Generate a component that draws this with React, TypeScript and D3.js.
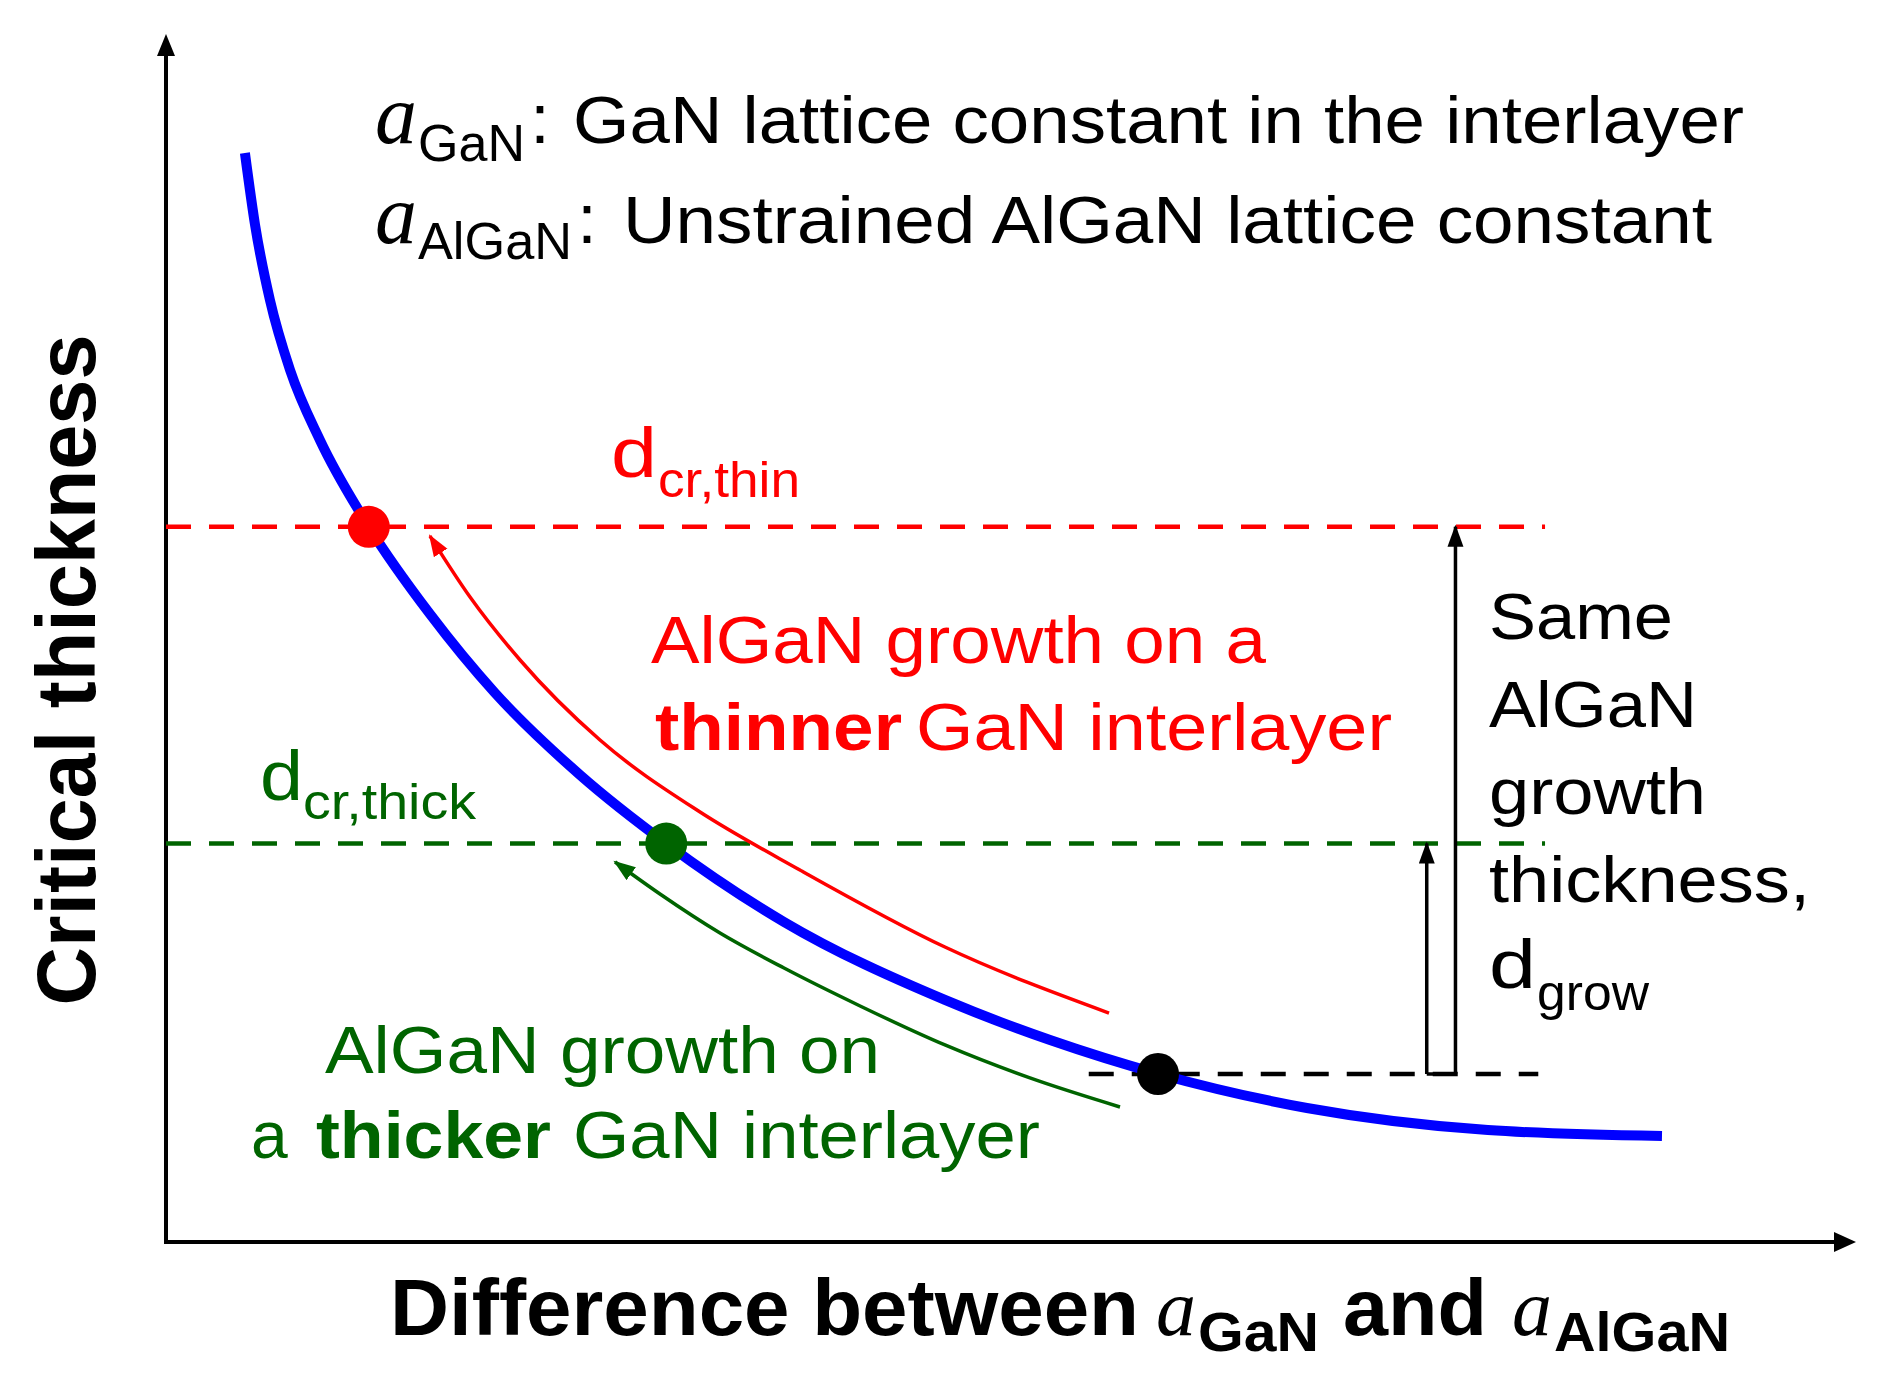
import * as d3 from "d3";
import React from "react";

// critical thickness vs. lattice mismatch (arbitrary units)
const curveX = [4.67, 5.27, 6.15, 7.34, 9.11, 12.01, 15.62, 19.47, 24.5, 29.64, 36.57, 46.09, 52.31, 58.76, 67.51, 78.22, 88.52];
const curveY = [90.75, 84.75, 78.5, 72.67, 66.83, 59.58, 52.33, 45.75, 38.92, 33.17, 26.67, 20.17, 16.83, 14.0, 11.17, 9.33, 8.83];

// curved arrows, listed from head (left) to tail (right)
const thinArrowX = [15.62, 17.99, 20.95, 25.68, 31.6, 37.51, 46.09, 55.8];
const thinArrowY = [58.83, 53.75, 48.5, 41.83, 35.83, 31.0, 24.58, 19.08];
const thickArrowX = [26.57, 29.23, 32.78, 36.57, 41.07, 46.09, 51.12, 56.45];
const thickArrowY = [31.67, 29.0, 25.75, 22.83, 19.67, 16.42, 13.67, 11.25];

// marked points on the curve: thin, thick, grow
const dotX = [12.0, 29.6, 58.7];
const dotY = [59.6, 33.2, 14.0];
const dotColors = ["#ff0000", "#006400", "#000000"];

// dashed levels
const levelStart = [0, 0, 54.6];
const levelEnd = [81.6, 81.6, 81.2];

// "same growth thickness" arrows: short one to thick level, long one to thin level
const growArrowX = [74.6, 76.3];
const growArrowTop = [33.2, 59.6];
const growBase = 14.0;

const SANS = "'Liberation Sans', Arial, Helvetica, sans-serif";
const SERIF = "'Liberation Serif', 'Times New Roman', serif";
const GREEN = "#006400";
const RED = "#ff0000";

function Txt(props: any) {
  const { x, y, size, len, bold, italic, serif, fill = "#000", anchor = "start", transform, children } = props;
  return (
    <text
      x={x}
      y={y}
      fontSize={size}
      fontFamily={serif ? SERIF : SANS}
      fontWeight={bold ? "bold" : "normal"}
      fontStyle={italic ? "italic" : "normal"}
      fill={fill}
      textAnchor={anchor}
      textLength={len}
      lengthAdjust={len ? "spacingAndGlyphs" : undefined}
      transform={transform}
    >
      {children}
    </text>
  );
}

export default function App() {
  const width = 1890;
  const height = 1390;

  const x = d3.scaleLinear().domain([0, 100]).range([166, 1856]);
  const y = d3.scaleLinear().domain([0, 100]).range([1242, 42]);

  const line = d3
    .line<[number, number]>()
    .x((d) => x(d[0]))
    .y((d) => y(d[1]))
    .curve(d3.curveMonotoneX);

  const curve = curveX.map((v, i) => [v, curveY[i]] as [number, number]);
  const thin = thinArrowX.map((v, i) => [v, thinArrowY[i]] as [number, number]);
  const thick = thickArrowX.map((v, i) => [v, thickArrowY[i]] as [number, number]);

  const x0 = x.range()[0];
  const y0 = y.range()[0];
  const xEnd = x.range()[1];
  const yTop = y.range()[1] - 8;

  return (
    <svg width={width} height={height} style={{ display: "block", position: "absolute", left: 0, top: 0, background: "#fff" }}>
      <defs>
        {[["red", RED], ["green", GREEN], ["black", "#000"]].map(([id, c]) => (
          <marker key={id} id={"head-" + id} markerUnits="userSpaceOnUse" markerWidth={24} markerHeight={18} refX={20} refY={8} orient="auto-start-reverse">
            <path d="M0,0 L22,8 L0,16 Z" fill={c} />
          </marker>
        ))}
      </defs>

      {/* axes */}
      <line x1={x0} y1={y0} x2={x0} y2={yTop + 20} stroke="#000" strokeWidth={4} />
      <path d={`M${x0},${yTop} L${x0 - 9},${yTop + 22} L${x0 + 9},${yTop + 22} Z`} fill="#000" />
      <line x1={x0 - 2} y1={y0} x2={xEnd - 20} y2={y0} stroke="#000" strokeWidth={4} />
      <path d={`M${xEnd},${y0} L${xEnd - 22},${y0 - 10} L${xEnd - 22},${y0 + 10} Z`} fill="#000" />

      {/* dashed levels */}
      {dotY.map((lv, i) => (
        <line
          key={"lv" + i}
          x1={x(levelStart[i])}
          x2={x(levelEnd[i])}
          y1={y(lv)}
          y2={y(lv)}
          stroke={dotColors[i]}
          strokeWidth={4.5}
          strokeDasharray="25 18"
        />
      ))}

      {/* same growth thickness arrows */}
      {growArrowX.map((gx, i) => (
        <line
          key={"ga" + i}
          x1={x(gx)}
          x2={x(gx)}
          y1={y(growBase)}
          y2={y(growArrowTop[i])}
          stroke="#000"
          strokeWidth={3.5}
          markerEnd="url(#head-black)"
        />
      ))}
      <line x1={x(growArrowX[0])} x2={x(growArrowX[1])} y1={y(growBase)} y2={y(growBase)} stroke="#000" strokeWidth={3.5} />

      {/* critical thickness curve */}
      <path d={line(curve) || ""} fill="none" stroke="#0000ff" strokeWidth={10} />

      {/* curved arrows */}
      <path d={line(thin) || ""} fill="none" stroke={RED} strokeWidth={3.5} markerStart="url(#head-red)" />
      <path d={line(thick) || ""} fill="none" stroke={GREEN} strokeWidth={3.5} markerStart="url(#head-green)" />

      {/* dots */}
      {dotX.map((dx, i) => (
        <circle key={"dot" + i} cx={x(dx)} cy={y(dotY[i])} r={21} fill={dotColors[i]} />
      ))}

      {/* legend */}
      <Txt x={375} y={143} size={84} italic serif>a</Txt>
      <Txt x={418} y={161} size={52} len={107}>GaN</Txt>
      <Txt x={540} y={143} size={70} anchor="middle">:</Txt>
      <Txt x={573} y={143} size={66} len={1171}>GaN lattice constant in the interlayer</Txt>
      <Txt x={375} y={243} size={84} italic serif>a</Txt>
      <Txt x={418} y={259} size={52} len={154}>AlGaN</Txt>
      <Txt x={587} y={243} size={70} anchor="middle">:</Txt>
      <Txt x={623} y={243} size={66} len={1089}>Unstrained AlGaN lattice constant</Txt>

      {/* red labels */}
      <Txt x={611} y={477} size={70} len={46} fill={RED}>d</Txt>
      <Txt x={658} y={497} size={50} len={142} fill={RED}>cr,thin</Txt>
      <Txt x={651} y={663} size={66} len={615} fill={RED}>AlGaN growth on a</Txt>
      <Txt x={655} y={750} size={66} len={247} bold fill={RED}>thinner</Txt>
      <Txt x={916} y={750} size={66} len={476} fill={RED}>GaN interlayer</Txt>

      {/* green labels */}
      <Txt x={260} y={800} size={70} len={43} fill={GREEN}>d</Txt>
      <Txt x={303} y={819} size={50} len={173} fill={GREEN}>cr,thick</Txt>
      <Txt x={325} y={1073} size={66} len={555} fill={GREEN}>AlGaN growth on</Txt>
      <Txt x={251} y={1158} size={66} fill={GREEN}>a</Txt>
      <Txt x={316} y={1158} size={66} len={235} bold fill={GREEN}>thicker</Txt>
      <Txt x={573} y={1158} size={66} len={467} fill={GREEN}>GaN interlayer</Txt>

      {/* right labels */}
      <Txt x={1489} y={639} size={64} len={184}>Same</Txt>
      <Txt x={1489} y={727} size={64} len={208}>AlGaN</Txt>
      <Txt x={1489} y={814} size={64} len={217}>growth</Txt>
      <Txt x={1489} y={902} size={64} len={321}>thickness,</Txt>
      <Txt x={1489} y={988} size={68} len={47}>d</Txt>
      <Txt x={1537} y={1010} size={50} len={112}>grow</Txt>

      {/* axis titles */}
      <Txt x={0} y={0} size={84} bold len={671} anchor="middle" transform="translate(95,670) rotate(-90)">
        Critical thickness
      </Txt>
      <Txt x={390} y={1335} size={80} bold len={749}>Difference between</Txt>
      <Txt x={1156} y={1335} size={80} italic serif>a</Txt>
      <Txt x={1198} y={1351} size={56} bold len={121}>GaN</Txt>
      <Txt x={1343} y={1335} size={80} bold len={144}>and</Txt>
      <Txt x={1512} y={1335} size={80} italic serif>a</Txt>
      <Txt x={1554} y={1351} size={56} bold len={176}>AlGaN</Txt>
    </svg>
  );
}
